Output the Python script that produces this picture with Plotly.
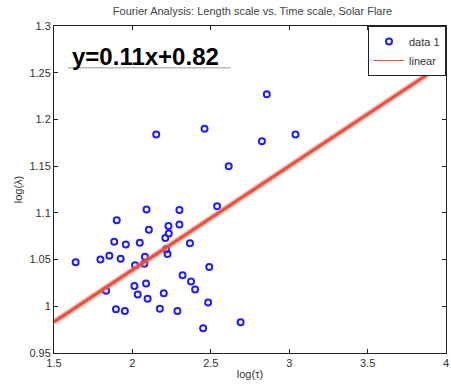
import plotly.graph_objects as go

x_vals = [1.638, 1.796, 1.853, 1.832, 1.884, 1.900, 1.895, 1.925, 1.952, 1.958,
          2.013, 2.017, 2.034, 2.047, 2.076, 2.080, 2.087, 2.090, 2.097, 2.105,
          2.152, 2.175, 2.200, 2.210, 2.215, 2.224, 2.230, 2.232, 2.287, 2.300,
          2.300, 2.320, 2.367, 2.374, 2.400, 2.451, 2.460, 2.483, 2.490, 2.540,
          2.614, 2.690, 2.826, 2.857, 3.040]
y_vals = [1.047, 1.050, 1.054, 1.0166, 1.069, 1.092, 0.9967, 1.051, 0.995, 1.066,
          1.0216, 1.044, 1.0127, 1.068, 1.0455, 1.053, 1.0245, 1.1036, 1.008, 1.082,
          1.184, 0.9973, 1.014, 1.073, 1.061, 1.056, 1.086, 1.078, 0.995, 1.0875,
          1.103, 1.0333, 1.0675, 1.0266, 1.018, 0.9764, 1.190, 1.004, 1.042, 1.107,
          1.150, 0.983, 1.1766, 1.227, 1.184]

fit_x = [1.5, 4.0]
slope, intercept = 0.1112, 0.8165
fit_y = [slope * v + intercept for v in fit_x]

x_ticks = [1.5, 2, 2.5, 3, 3.5, 4]
x_tick_labels = ["1.5", "2", "2.5", "3", "3.5", "4"]
y_ticks = [0.95, 1.0, 1.05, 1.1, 1.15, 1.2, 1.25, 1.3]
y_tick_labels = ["0.95", "1", "1.05", "1.1", "1.15", "1.2", "1.25", "1.3"]

fig = go.Figure()
fig.add_trace(go.Scatter(
    x=x_vals, y=y_vals, mode="markers", name="data 1",
    marker=dict(symbol="circle-open", size=6, color="rgb(30,30,255)",
                line=dict(width=2, color="rgb(30,30,255)")),
))
# glow of fit line
fig.add_trace(go.Scatter(
    x=fit_x, y=fit_y, mode="lines", showlegend=False, hoverinfo="skip",
    line=dict(color="rgba(240,110,90,0.45)", width=6),
))
fig.add_trace(go.Scatter(
    x=fit_x, y=fit_y, mode="lines", showlegend=False,
    line=dict(color="rgb(238,80,62)", width=3),
))
# legend entry for the fit (thin line as in the reference legend)
fig.add_trace(go.Scatter(
    x=[None], y=[None], mode="lines", name="linear",
    line=dict(color="rgb(238,80,62)", width=1),
))

fig.update_layout(
    width=451, height=387,
    margin=dict(l=54, r=2, t=26, b=34),
    paper_bgcolor="white", plot_bgcolor="white",
    font=dict(family="Liberation Sans, Arial, sans-serif", size=11, color="#333"),
    title=dict(text="Fourier Analysis: Length scale vs. Time scale, Solar Flare",
               x=0.56, xanchor="center", y=0.98, yanchor="top",
               font=dict(size=11, color="#444")),
    showlegend=True,
    legend=dict(x=1.0, y=1.0, xanchor="right", yanchor="top",
                bgcolor="white", bordercolor="#222", borderwidth=1,
                font=dict(size=11, color="#333"),
                tracegroupgap=0, itemwidth=30),
    xaxis=dict(range=[1.5, 4], tickvals=x_ticks, ticktext=x_tick_labels,
               showgrid=False, zeroline=False, showline=True, linecolor="#222",
               linewidth=1, mirror="ticks", ticks="inside", ticklen=4,
               tickcolor="#222", ticklabeloverflow="allow",
               title=dict(text="log(τ)", standoff=2, font=dict(size=11))),
    yaxis=dict(range=[0.95, 1.3], tickvals=y_ticks, ticktext=y_tick_labels,
               showgrid=False, zeroline=False, showline=True, linecolor="#222",
               linewidth=1, mirror="ticks", ticks="inside", ticklen=4,
               tickcolor="#222", ticklabeloverflow="allow",
               title=dict(text="log(λ)", standoff=4, font=dict(size=11))),
)

fig.add_annotation(
    x=0.04, y=0.955, xref="paper", yref="paper", xanchor="left", yanchor="top",
    text="<b>y=0.11x+0.82</b>", showarrow=False,
    font=dict(family="Liberation Sans, Arial, sans-serif", size=24, color="black"),
)
fig.add_shape(type="line", xref="paper", yref="paper",
              x0=0.035, x1=0.45, y0=0.872, y1=0.872,
              line=dict(color="#bbb", width=1.5))

fig.write_html("out.html")
